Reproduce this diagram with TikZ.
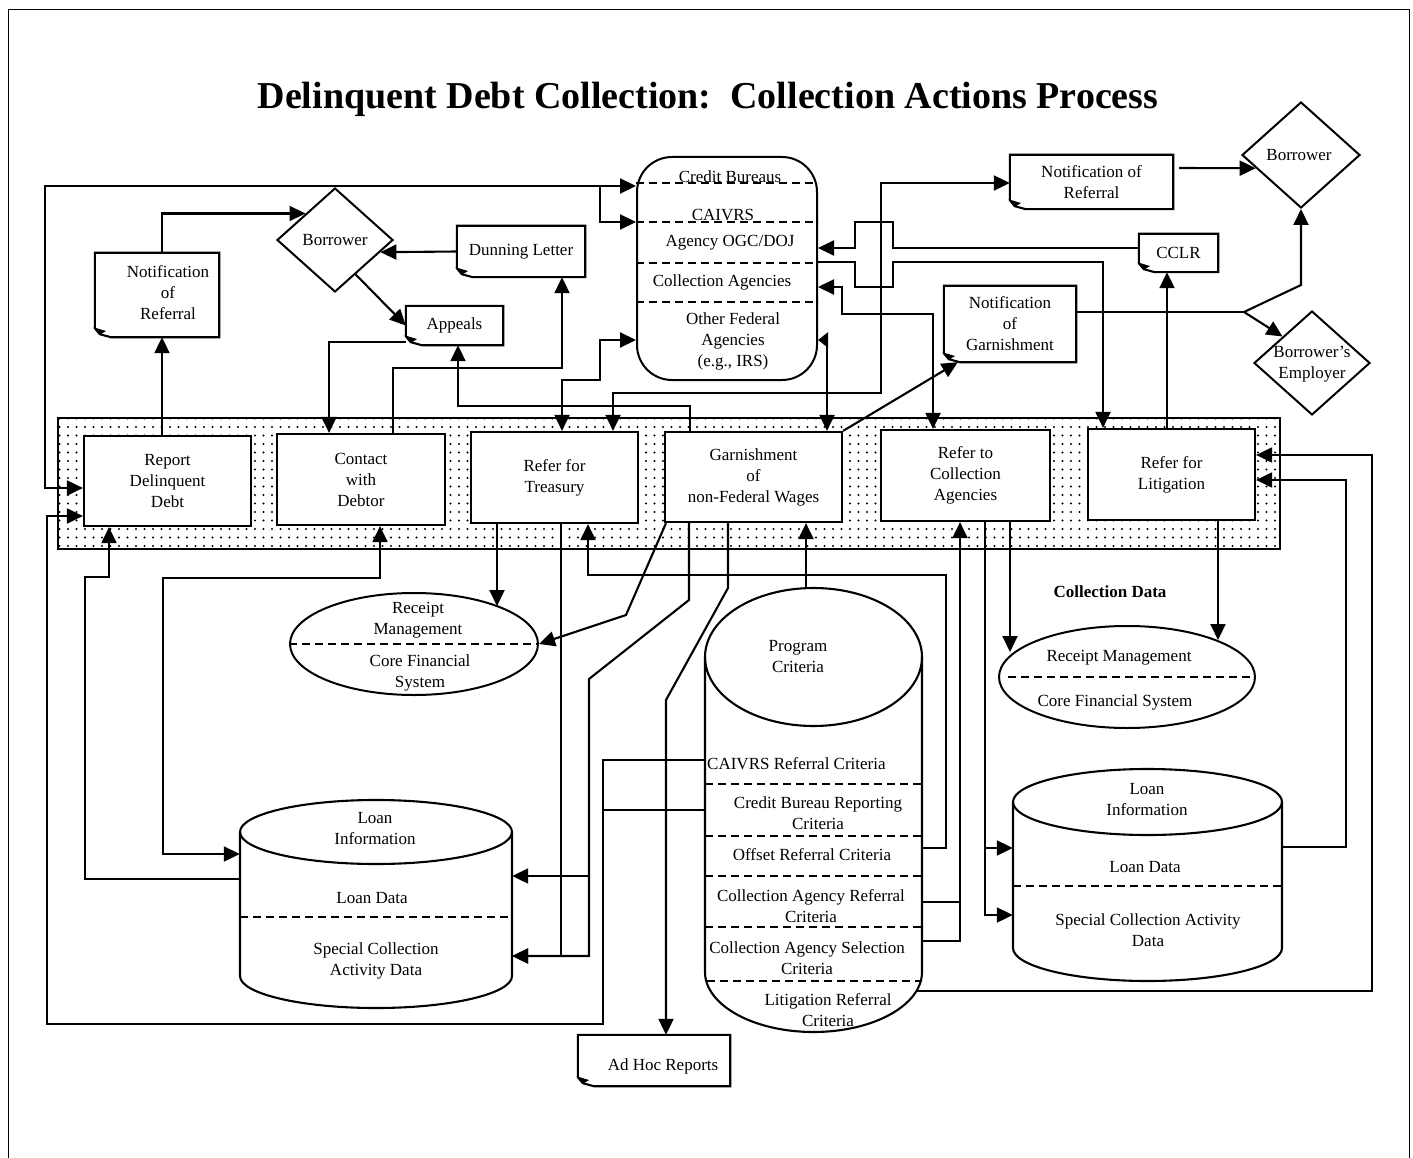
\documentclass[tikz,border=0pt]{standalone}
\usepackage{fontspec}
\setmainfont{Liberation Serif}
\usetikzlibrary{arrows.meta,shapes.geometric,patterns.meta,calc}
\newcommand\myfs{\fontsize{17}{21}\selectfont}
\tikzset{
  ln/.style={line width=2.1pt},
  arr/.style={ln,-{Triangle[length=16pt,width=15pt]}},
  arrr/.style={ln,{Triangle[length=16pt,width=15pt]}-{Triangle[length=16pt,width=15pt]}},
  txt/.style={font=\myfs, align=center, inner sep=0pt},
  proc/.style={draw, line width=2.2pt, fill=white, font=\myfs, align=center, inner sep=0pt},
  docn/.style={font=\myfs, align=center, inner sep=0pt},
  dia/.style={diamond, draw, line width=2pt, fill=white, inner sep=0pt},
  dsh/.style={line width=1.8pt, dash pattern=on 8pt off 5pt},
  anchorbox/.style={inner sep=0pt, draw=none}
}
\begin{document}
\begin{tikzpicture}[x=1pt,y=-1pt]
\useasboundingbox (0,0) rectangle (1413,1158);
\fill[white] (0,0) rectangle (1413,1158);
\draw[line width=1pt] (8,1158) -- (8,10) -- (1409,10) -- (1409,1158);

\node[font=\fontsize{38}{44}\selectfont\bfseries, inner sep=0pt] (title) at (708,99) {Delinquent Debt Collection:\ \ Collection Actions Process};

% band
\node[draw, line width=2.2pt, minimum width=1222pt, minimum height=131pt, inner sep=0pt, pattern={Dots[distance=8.5pt,radius=1.1pt]}] (band) at (669,483.5) {};

% process boxes
\node[proc, minimum width=167pt, minimum height=90pt] (rdd) at (167.5,481) {Report\\Delinquent\\Debt};
\node[proc, minimum width=168pt, minimum height=91pt] (cwd) at (361,479.5) {Contact\\with\\Debtor};
\node[proc, minimum width=167pt, minimum height=91pt] (rft) at (554.5,477.5) {Refer for\\Treasury};
\node[proc, minimum width=177pt, minimum height=90pt] (garn) at (753.5,477) {Garnishment\\of\\non-Federal Wages};
\node[proc, minimum width=169pt, minimum height=91pt] (rca) at (965.5,475.5) {Refer to\\Collection\\Agencies};
\node[proc, minimum width=167pt, minimum height=91pt] (rfl) at (1171.5,474.5) {Refer for\\Litigation};

% documents
\node[docn, minimum width=124pt, minimum height=84pt] (notifL) at (157,295) {};
\node[txt] (notifLt) at (168,293) {Notification\\of\\Referral};
\node[docn, minimum width=128pt, minimum height=51pt] (dunning) at (521,251.5) {Dunning Letter};
\node[docn, minimum width=97pt, minimum height=39pt] (appeals) at (454.5,325.5) {Appeals};
\node[docn, minimum width=163pt, minimum height=54pt] (notifR) at (1091.5,182) {Notification of\\Referral};
\node[docn, minimum width=79pt, minimum height=38pt] (cclr) at (1178.5,253) {CCLR};
\node[docn, minimum width=132pt, minimum height=76pt] (notifG) at (1010,324) {Notification\\of\\Garnishment};
\node[docn, minimum width=152pt, minimum height=51pt] (adhoc) at (654,1060.5) {};
\node[txt] (adhoct) at (663,1066) {Ad Hoc Reports};
\foreach \n in {notifL,dunning,appeals,notifR,cclr,notifG,adhoc}{
  \draw[ln, line join=miter] (\n.north west) -- (\n.north east) -- (\n.south east) -- ([xshift=16pt]\n.south west) -- ([xshift=5pt,yshift=3pt]\n.south west) -- ([yshift=9pt]\n.south west) -- cycle;
  \draw[line width=1pt, fill=black] ([yshift=9pt]\n.south west) -- ([xshift=10pt,yshift=6pt]\n.south west) -- ([xshift=5pt,yshift=3pt]\n.south west) -- cycle;
}

% diamonds
\node[dia, minimum width=116pt, minimum height=104pt] (borrL) at (335,240) {};
\node[txt] (borrLt) at (335,240) {Borrower};
\node[dia, minimum width=118pt, minimum height=106pt] (borrR) at (1301,155) {};
\node[txt] (borrRt) at (1299,155) {Borrower};
\node[dia, minimum width=116pt, minimum height=104pt] (empl) at (1312,363) {};
\node[txt] (emplt) at (1312,364) {Borrower's\\Employer};

% agencies box
\node[draw, line width=2pt, rounded corners=35pt, minimum width=180pt, minimum height=223pt, inner sep=0pt] (ag) at (727,268.5) {};
\foreach \yy in {183,222,263,302}{
  \draw[dsh] (ag.west |- 0,\yy) -- (ag.east |- 0,\yy);
}
\node[txt] (agt1) at (730,177) {Credit Bureaus};
\node[txt] (agt2) at (723,215) {CAIVRS};
\node[txt] (agt3) at (730,243) {Agency OGC/DOJ};
\node[txt] (agt4) at (722,282) {Collection Agencies};
\node[txt] (agt5) at (733,341) {Other Federal\\Agencies\\(e.g., IRS)};

% ellipses
\node[ellipse, draw, line width=2pt, minimum width=248pt, minimum height=102pt, inner sep=0pt] (rmL) at (414,644) {};
\draw[dsh] (rmL.west) -- (rmL.east);
\node[txt] (rmLt1) at (418,620) {Receipt\\Management};
\node[txt] (rmLt2) at (420,672.5) {Core Financial\\System};
\node[ellipse, draw, line width=2pt, minimum width=256pt, minimum height=102pt, inner sep=0pt] (rmR) at (1127,677) {};
\draw[dsh] ([xshift=10pt]rmR.west) -- (rmR.east);
\node[txt] (rmRt1) at (1119,658) {Receipt Management};
\node[txt] (rmRt2) at (1115,702) {Core Financial System};
\node[font=\myfs\bfseries, inner sep=0pt] (cdata) at (1110,592) {Collection Data};

% left cylinder
\node[anchorbox, minimum width=272pt, minimum height=208pt] (liL) at (376,904) {};
\draw[ln] (376,832) ellipse[x radius=136, y radius=32];
\draw[ln] (240,832) -- (240,976) arc[start angle=180, end angle=0, x radius=136, y radius=32] -- (512,832);
\draw[dsh] (240,917) -- (512,917);
\node[txt] (liLt1) at (375,829) {Loan\\Information};
\node[txt] (liLt2) at (372,898) {Loan Data};
\node[txt] (liLt3) at (376,960.5) {Special Collection\\Activity Data};

% right cylinder
\node[anchorbox, minimum width=269pt, minimum height=212pt] (liR) at (1147.5,875) {};
\draw[ln] (1147.5,802) ellipse[x radius=134.5, y radius=33];
\draw[ln] (1013,802) -- (1013,948) arc[start angle=180, end angle=0, x radius=134.5, y radius=33] -- (1282,802);
\draw[dsh] (1013,886) -- (1282,886);
\node[txt] (liRt1) at (1147,799.5) {Loan\\Information};
\node[txt] (liRt2) at (1145,867) {Loan Data};
\node[txt] (liRt3) at (1148,930.5) {Special Collection Activity\\Data};

% program criteria
\node[anchorbox, minimum width=217pt, minimum height=444pt] (pc) at (813.5,810) {};
\draw[ln] (813.5,657) ellipse[x radius=108.5, y radius=69];
\draw[ln] (705,657) -- (705,972) arc[start angle=180, end angle=0, x radius=108.5, y radius=60] -- (922,657);
\foreach \yy in {784,836,876,927}{
  \draw[dsh] (705,\yy) -- (922,\yy);
}
\draw[dsh] (707,981) -- (920,981);
\node[txt] (pct0) at (798,657) {Program\\Criteria};
\node[txt, anchor=west] (pct1) at (707,764) {CAIVRS Referral Criteria};
\node[txt] (pct2) at (818,813.5) {Credit Bureau Reporting\\Criteria};
\node[txt] (pct3) at (812,855) {Offset Referral Criteria};
\node[txt] (pct4) at (811,906.5) {Collection Agency Referral\\Criteria};
\node[txt] (pct5) at (807,958.5) {Collection Agency Selection\\Criteria};
\node[txt] (pct6) at (828,1010.5) {Litigation Referral\\Criteria};

% ---- connectors: top left
\draw[arr] (162,0 |- rdd.north) -- (162,0 |- notifL.south);
\draw[arr] (162,0 |- notifL.north) |- (borrL.north west);
\draw[arr] (dunning.west) -- ($(borrL.east)!0.23!(borrL.south)$);
\draw[arr] ($(borrL.east)!0.65!(borrL.south)$) -- (appeals.west);
\draw[arr] ([yshift=3pt]appeals.south west) -| (329,0 |- cwd.north);
\draw[arr] (393,0 |- cwd.north) |- (562,368) -- (562,0 |- dunning.south);
\draw[arr] (690,0 |- garn.north) |- (458,406) -- (458,0 |- appeals.south);
\draw[arrr] (rdd.west |- 0,488) -| (45,186) -- (ag.west |- 0,186);
\draw[arr] (600,186) |- (ag.west |- 0,222);
\draw[arrr] (562,0 |- rft.north) |- (600,380) |- (ag.west |- 0,340);
\draw[arrr] (613,0 |- rft.north) |- (881,393) |- (notifR.west |- 0,183);
\draw[ln, {Triangle[length=16pt,width=15pt]}-{Triangle[length=10pt,width=15pt]}] (827,0 |- garn.north) |- (ag.east |- 0,340);

% ---- connectors: top right
\draw[arr] (cclr.west |- 0,248) -- (893,248) -- (893,222) -- (855,222) -- (855,248) -- (ag.east |- 0,248);
\draw[arr] (ag.east |- 0,262) -- (855,262) -- (855,287) -- (893,287) -- (893,262) -| (1103,0 |- rfl.north);
\draw[arrr] (ag.east |- 0,287) -- (842,287) |- (933,314) -- (933,0 |- rca.north);
\draw[arr] (garn.north east) -- ([xshift=14pt]notifG.south west);
\draw[ln] (notifG.east |- 0,312) -- (1244,312);
\draw[arr] (1244,312) -- (borrR.south |- 0,285) -- (borrR.south);
\draw[arr] (1244,312) -- (empl.north west);
\draw[arr] ($(notifR.east |- 0,168)+(6,0)$) -- ($(borrR.west)!0.245!(borrR.south)$);
\draw[arr] (1167,0 |- rfl.north) -- (1167,0 |- cclr.south);

% ---- connectors: lower left
\draw[arr] (pc.west |- 0,760) -| (603,1024) -| (47,516) -- (rdd.west |- 0,516);
\draw[ln] (pc.west |- 0,810) -- (603,810);
\draw[arr] (liL.west |- 0,879) -| (85,577) -| (109,0 |- rdd.south);
\draw[arrr] (380,0 |- cwd.south) |- (163,578) |- (liL.west |- 0,854);
\draw[arr] (497,0 |- rft.south) -- (497,606);
\draw[arr] (561,0 |- rft.south) |- (liL.east |- 0,956);
\draw[arr] (pc.east |- 0,848) -| (946,575) -| (588,0 |- rft.south);
\draw[arr] (666,0 |- garn.south) -- (626,615) -- (rmL.east);
\draw[arr] (689,0 |- garn.south) -- (689,600) -- (589,679) |- (liL.east |- 0,956);
\draw[arr] (589,876) -- (liL.east |- 0,876);
\draw[arr] (728,0 |- garn.south) -- (728,588) -- (666,700) -- (666,0 |- adhoc.north);
\draw[arr] (806,0 |- pc.north) -- (806,0 |- garn.south);

% ---- connectors: lower right
\draw[arr] (pc.east |- 0,941) -| (960,0 |- rca.south);
\draw[ln] (pc.east |- 0,902) -- (960,902);
\draw[arr] (985,0 |- rca.south) |- (liR.west |- 0,915);
\draw[arr] (985,848) -- (liR.west |- 0,848);
\draw[arr] (1010,0 |- rca.south) -- (1010,652);
\draw[arr] (1218,0 |- rfl.south) -- (1218,640);
\draw[arr] (liR.east |- 0,847) -| (1346,480) -- (rfl.east |- 0,480);
\draw[arr] (917,991) -| (1372,455) -- (rfl.east |- 0,455);
\end{tikzpicture}
\end{document}
